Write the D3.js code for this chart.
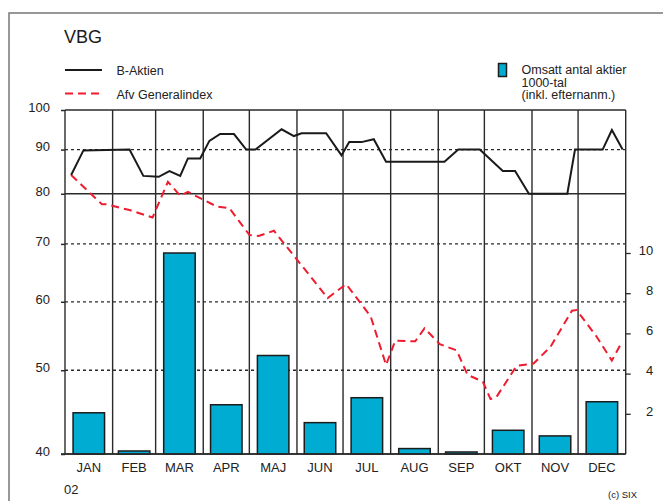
<!DOCTYPE html>
<html>
<head>
<meta charset="utf-8">
<script src="https://cdn.jsdelivr.net/npm/d3@7"></script>
<style>
  body { margin: 0; background: #fff; }
  svg { display: block; font-family: "Liberation Sans", Arial, sans-serif; }
</style>
</head>
<body>
<div id="chart"></div>
<script>
// Data
var months = ["JAN", "FEB", "MAR", "APR", "MAJ", "JUN", "JUL", "AUG", "SEP", "OKT", "NOV", "DEC"];
var volume = [2.05, 0.15, 10.0, 2.45, 4.9, 1.56, 2.8, 0.27, 0.1, 1.18, 0.9, 2.6]; // 1000-tal

var aktienDates = ["2002-01-05", "2002-01-13", "2002-02-12", "2002-02-21", "2002-03-03", "2002-03-10",
  "2002-03-17", "2002-03-22", "2002-03-30", "2002-04-05", "2002-04-12", "2002-04-21", "2002-04-29",
  "2002-05-05", "2002-05-22", "2002-05-30", "2002-06-04", "2002-06-20", "2002-06-30", "2002-07-05",
  "2002-07-13", "2002-07-21", "2002-07-29", "2002-09-05", "2002-09-14", "2002-09-28", "2002-10-13",
  "2002-10-21", "2002-10-30", "2002-11-24", "2002-11-29", "2002-12-17", "2002-12-23", "2002-12-30"];
var aktienValues = [84.1, 89.8, 90, 83.9, 83.7, 85, 83.9, 87.9, 87.9, 92.1, 93.8, 93.8, 90,
  90, 95, 93.3, 94, 94, 88.6, 91.8, 91.8, 92.5, 87.1, 87.1, 90, 90, 85,
  85, 80, 80, 90, 90, 94.8, 90];

var indexDates = ["2002-01-05", "2002-01-25", "2002-01-28", "2002-02-12", "2002-02-27", "2002-03-09",
  "2002-03-17", "2002-03-22", "2002-04-10", "2002-04-18", "2002-05-01", "2002-05-07", "2002-05-17",
  "2002-06-21", "2002-07-03", "2002-07-19", "2002-07-29", "2002-08-04", "2002-08-17", "2002-08-23",
  "2002-09-02", "2002-09-13", "2002-09-20", "2002-09-30", "2002-10-05", "2002-10-09", "2002-10-22",
  "2002-11-02", "2002-11-13", "2002-11-27", "2002-11-30", "2002-12-13", "2002-12-23", "2002-12-29"];
var indexValues = [84.1, 77.8, 77.8, 76.6, 75.1, 82.6, 79.6, 80.4, 77.3, 77.0, 71.7, 71.5, 72.5,
  60.6, 62.9, 57.7, 50.7, 54.1, 54.0, 55.9, 53.6, 52.7, 49.4, 48.5, 46.3, 46.6, 50.6,
  50.9, 53.2, 58.6, 58.7, 54.7, 51.3, 53.7];

var leftTicks = [40, 50, 60, 70, 80, 90, 100];
var solidTicks = [40, 80, 100];
var rightTicks = [2, 4, 6, 8, 10];

var w = 663, h = 501;
var plot = {left: 65, right: 625.7, top: 110, bottom: 454};
var parse = d3.utcParse("%Y-%m-%d");

var svg = d3.select("#chart").append("svg")
  .attr("width", w)
  .attr("height", h);

// Outer border
svg.append("path")
  .attr("d", "M9," + h + "V13H" + w)
  .attr("fill", "none")
  .attr("stroke", "#777")
  .attr("stroke-width", 1.5);

// Scales
var xScale = d3.scaleUtc().domain([parse("2002-01-01"), parse("2003-01-01")]).range([plot.left, plot.right]);
var yScale = d3.scaleLog().domain([40, 100]).range([plot.bottom, plot.top]);
var yVol = d3.scaleLinear().domain([0, 10]).range([plot.bottom, 253]);

var monthStarts = d3.utcMonth.range(parse("2002-01-01"), parse("2003-01-01"));
var monthData = monthStarts.map(function(d, i) {
  return {start: d, end: d3.utcMonth.offset(d, 1), name: months[i], vol: volume[i]};
});

// Horizontal grid lines
svg.selectAll(".hgrid").data(leftTicks).enter().append("line")
  .attr("x1", plot.left)
  .attr("x2", plot.right)
  .attr("y1", function(d) { return yScale(d); })
  .attr("y2", function(d) { return yScale(d); })
  .attr("stroke", "#2a2a2a")
  .attr("stroke-width", function(d) { return solidTicks.indexOf(d) >= 0 ? 1.5 : 1.3; })
  .attr("stroke-dasharray", function(d) { return solidTicks.indexOf(d) >= 0 ? null : "3,3"; });

// Vertical month lines
svg.selectAll(".vgrid").data(monthStarts.concat([parse("2003-01-01")])).enter().append("line")
  .attr("x1", function(d) { return xScale(d); })
  .attr("x2", function(d) { return xScale(d); })
  .attr("y1", plot.top)
  .attr("y2", plot.bottom)
  .attr("stroke", "#2a2a2a")
  .attr("stroke-width", 1.4);

// Left axis
var yAxis = d3.axisLeft(yScale).tickValues(leftTicks).tickFormat(d3.format("d")).tickSize(4).tickPadding(11);
var gLeft = svg.append("g")
  .attr("transform", "translate(" + plot.left + ",0)")
  .call(yAxis);
gLeft.select(".domain").remove();
gLeft.selectAll("line").attr("stroke", "#2a2a2a").attr("stroke-width", 1.5);
gLeft.selectAll("text")
  .attr("dy", "0.1em")
  .attr("font-size", "13px")
  .attr("font-family", "Liberation Sans, Arial, sans-serif")
  .attr("fill", "#222");

// Right axis (volume)
var rAxis = d3.axisRight(yVol).tickValues(rightTicks).tickSize(5).tickPadding(10);
var gRight = svg.append("g")
  .attr("transform", "translate(" + plot.right + ",0)")
  .call(rAxis);
gRight.select(".domain").remove();
gRight.selectAll("line").attr("stroke", "#2a2a2a").attr("stroke-width", 1.3);
gRight.selectAll("text")
  .attr("x", 27.5)
  .attr("dy", "0.1em")
  .style("text-anchor", "end")
  .attr("font-size", "13px")
  .attr("font-family", "Liberation Sans, Arial, sans-serif")
  .attr("fill", "#222");

// Month labels
svg.selectAll(".mlabel").data(monthData).enter().append("text")
  .attr("x", function(d) { return (xScale(d.start) + xScale(d.end)) / 2; })
  .attr("y", 472)
  .attr("text-anchor", "middle")
  .attr("font-size", "13px")
  .attr("fill", "#222")
  .text(function(d) { return d.name; });

svg.append("text")
  .attr("x", 64)
  .attr("y", 494)
  .attr("font-size", "13px")
  .attr("fill", "#222")
  .text("02");

// Volume bars
var barW = 31.5;
svg.selectAll(".bar").data(monthData).enter().append("rect")
  .attr("x", function(d) { return (xScale(d.start) + xScale(d.end)) / 2 - barW / 2; })
  .attr("y", function(d) { return yVol(d.vol); })
  .attr("width", barW)
  .attr("height", function(d) { return plot.bottom - yVol(d.vol); })
  .attr("fill", "#00acd2")
  .attr("stroke", "#1c1c1c")
  .attr("stroke-width", 1.5);

// Redraw the bottom line over bar edges
svg.append("line")
  .attr("x1", plot.left - 4).attr("x2", plot.right)
  .attr("y1", yScale(40)).attr("y2", yScale(40))
  .attr("stroke", "#2a2a2a").attr("stroke-width", 1.5);

// Lines
var line = d3.line()
  .x(function(d) { return xScale(d.date); })
  .y(function(d) { return yScale(d.value); });

var indexData = indexDates.map(function(d, i) { return {date: parse(d), value: indexValues[i]}; });
var aktienData = aktienDates.map(function(d, i) { return {date: parse(d), value: aktienValues[i]}; });

svg.append("path")
  .datum(indexData)
  .attr("d", line)
  .attr("fill", "none")
  .attr("stroke", "#ee1c2e")
  .attr("stroke-width", 2)
  .attr("stroke-dasharray", "8,5");

svg.append("path")
  .datum(aktienData)
  .attr("d", line)
  .attr("fill", "none")
  .attr("stroke", "#1a1a1a")
  .attr("stroke-width", 2);

// Title
svg.append("text")
  .attr("x", 64)
  .attr("y", 43)
  .attr("font-size", "18px")
  .attr("fill", "#1a1a1a")
  .text("VBG");

// Legend
svg.append("line")
  .attr("x1", 65).attr("x2", 102)
  .attr("y1", 70).attr("y2", 70)
  .attr("stroke", "#1a1a1a").attr("stroke-width", 2.2);
svg.append("text")
  .attr("x", 116.5).attr("y", 75)
  .attr("font-size", "12.5px").attr("fill", "#222")
  .text("B-Aktien");

svg.append("line")
  .attr("x1", 65).attr("x2", 102)
  .attr("y1", 93.5).attr("y2", 93.5)
  .attr("stroke", "#ee1c2e").attr("stroke-width", 2.2)
  .attr("stroke-dasharray", "8,5");
svg.append("text")
  .attr("x", 116.5).attr("y", 98.5)
  .attr("font-size", "12.5px").attr("fill", "#222")
  .text("Afv Generalindex");

svg.append("rect")
  .attr("x", 498.5).attr("y", 63.5)
  .attr("width", 8).attr("height", 13)
  .attr("fill", "#00acd2")
  .attr("stroke", "#1c1c1c").attr("stroke-width", 1.5);

var volLegend = ["Omsatt antal aktier", "1000-tal", "(inkl. efternanm.)"];
svg.selectAll(".vlegend").data(volLegend).enter().append("text")
  .attr("x", 521.5)
  .attr("y", function(d, i) { return 74 + i * 12.5; })
  .attr("font-size", "12.5px")
  .attr("fill", "#222")
  .text(function(d) { return d; });

// Source
svg.append("text")
  .attr("x", 608)
  .attr("y", 498)
  .attr("font-size", "9.5px")
  .attr("fill", "#222")
  .text("(c) SIX");
</script>
</body>
</html>
